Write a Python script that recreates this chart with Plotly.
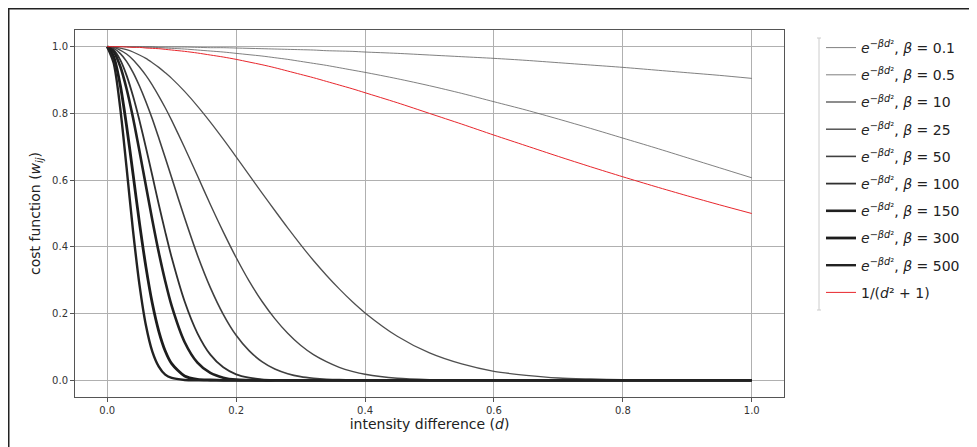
import plotly.graph_objects as go

d = [0, .01, .02, .03, .04, .05, .06, .07, .08, .09, .10,
     .12, .14, .16, .18, .20,
     .22, .24, .26, .28, .30, .32, .34, .36, .38, .40,
     .45, .50, .55, .60, .65, .70, .75, .80, .85, .90, .95, 1.0]

w_b0_1 = [1, 1, 1, 1, 1, 1, 1, 1, .999, .999, .999,
          .999, .998, .997, .997, .996,
          .995, .994, .993, .992, .991, .990, .988, .987, .986, .984,
          .980, .975, .970, .965, .959, .952, .945, .938, .930, .922, .914, .905]
w_b0_5 = [1, 1, 1, 1, .999, .999, .998, .998, .997, .996, .995,
          .993, .990, .987, .984, .980,
          .976, .972, .967, .962, .956, .950, .944, .937, .930, .923,
          .904, .883, .860, .835, .810, .783, .755, .726, .697, .667, .637, .607]
w_b10 = [1, .999, .996, .991, .984, .975, .965, .952, .938, .922, .905,
         .866, .822, .774, .723, .670,
         .616, .562, .509, .457, .407, .359, .315, .274, .236, .202,
         .132, .082, .049, .027, .015, .007, .004, .002, .001, 0, 0, 0]
w_b25 = [1, .998, .990, .978, .961, .939, .914, .885, .852, .817, .779,
         .698, .613, .527, .445, .368,
         .298, .237, .185, .141, .105, .077, .056, .039, .027, .018,
         .006, .002, .001, 0, 0, 0, 0, 0, 0, 0, 0, 0]
w_b50 = [1, .995, .980, .956, .923, .882, .835, .783, .726, .667, .607,
         .487, .375, .278, .198, .135,
         .089, .056, .034, .020, .011, .006, .003, .002, .001, 0,
         0, 0, 0, 0, 0, 0, 0, 0, 0, 0, 0, 0]
w_b100 = [1, .990, .961, .914, .852, .779, .698, .613, .527, .445, .368,
          .237, .141, .077, .039, .018,
          .008, .003, .001, 0, 0, 0, 0, 0, 0, 0,
          0, 0, 0, 0, 0, 0, 0, 0, 0, 0, 0, 0]
w_b150 = [1, .985, .942, .874, .787, .687, .583, .480, .383, .297, .223,
          .115, .053, .022, .008, .002,
          .001, 0, 0, 0, 0, 0, 0, 0, 0, 0,
          0, 0, 0, 0, 0, 0, 0, 0, 0, 0, 0, 0]
w_b300 = [1, .970, .887, .763, .619, .472, .340, .230, .147, .088, .050,
          .013, .003, .001, 0, 0,
          0, 0, 0, 0, 0, 0, 0, 0, 0, 0,
          0, 0, 0, 0, 0, 0, 0, 0, 0, 0, 0, 0]
w_b500 = [1, .951, .819, .638, .449, .287, .165, .086, .041, .017, .007,
          .001, 0, 0, 0, 0,
          0, 0, 0, 0, 0, 0, 0, 0, 0, 0,
          0, 0, 0, 0, 0, 0, 0, 0, 0, 0, 0, 0]
w_inv = [1, 1, 1, .999, .998, .998, .996, .995, .994, .992, .990,
         .986, .981, .975, .969, .962,
         .954, .946, .937, .927, .917, .907, .896, .885, .874, .862,
         .832, .800, .768, .735, .703, .671, .640, .610, .581, .553, .526, .500]

betas = ["0.1", "0.5", "10", "25", "50", "100", "150", "300", "500"]
series = [w_b0_1, w_b0_5, w_b10, w_b25, w_b50, w_b100, w_b150, w_b300, w_b500]
widths = [0.8, 0.8, 1.3, 1.4, 1.6, 1.8, 2.6, 2.8, 2.4]
colors = ["#606060", "#606060", "#505050", "#484848", "#404040", "#303030", "#202020", "#1c1c1c", "#222222"]

x_ticks = [0.0, 0.2, 0.4, 0.6, 0.8, 1.0]
y_ticks = [0.0, 0.2, 0.4, 0.6, 0.8, 1.0]

fig = go.Figure()
for i, (b, ys) in enumerate(zip(betas, series)):
    fig.add_trace(go.Scatter(
        x=d, y=ys, mode="lines",
        line=dict(color=colors[i], width=widths[i], shape="spline", smoothing=0.8),
        name="<i>e</i><sup>−<i>βd</i>²</sup>, <i>β</i> = " + b,
        legendgroup="g%d" % i,
    ))
fig.add_trace(go.Scatter(
    x=d, y=w_inv, mode="lines",
    line=dict(color="#e8262c", width=1, shape="spline", smoothing=0.8),
    name="1/(<i>d</i>² + 1)", legendgroup="g9",
))

O = 8  # page body offset
L, T = 67, 22
W, H = 969, 439
pw, ph = 709, 367
R = W - L - pw
B = H - T - ph

def px(xs):
    return (xs - O - L) / pw

def py(ys):
    return 1 - (ys - O - T) / ph

axis_common = dict(
    showgrid=True, gridcolor="#b0b0b0", gridwidth=0.8,
    showline=True, linecolor="#555555", linewidth=1, mirror=True,
    ticks="outside", ticklen=4, tickcolor="#555555", tickwidth=1,
    tickfont=dict(family="DejaVu Sans", size=10, color="#333333"),
    zeroline=False,
)

fig.update_layout(
    width=W, height=H,
    margin=dict(l=L, r=R, t=T, b=B, pad=0),
    paper_bgcolor="white", plot_bgcolor="white",
    font=dict(family="DejaVu Sans", color="#222222"),
    xaxis=dict(range=[-0.05, 1.05], tickvals=x_ticks, ticktext=["%.1f" % v for v in x_ticks],
               title=dict(text="intensity difference (<i>d</i>)", font=dict(size=14, color="#222222"), standoff=1),
               **axis_common),
    yaxis=dict(range=[-0.05, 1.05], tickvals=y_ticks, ticktext=["%.1f" % v for v in y_ticks],
               title=dict(text="cost function (<i>w<sub>ij</sub></i>)", font=dict(size=14, color="#222222"), standoff=8),
               **axis_common),
    legend=dict(x=px(821), y=py(32), xanchor="left", yanchor="top",
                font=dict(family="DejaVu Sans", size=14, color="#222222"),
                tracegroupgap=6, bgcolor="rgba(0,0,0,0)", itemwidth=30),
    shapes=[
        dict(type="line", xref="paper", yref="paper", x0=px(8), x1=px(980), y0=py(8.75), y1=py(8.75),
             line=dict(color="#222222", width=1.5)),
        dict(type="line", xref="paper", yref="paper", x0=px(8.75), x1=px(8.75), y0=py(8), y1=py(450),
             line=dict(color="#222222", width=1.5)),
        dict(type="line", xref="paper", yref="paper", x0=px(819), x1=px(819), y0=py(38), y1=py(310),
             line=dict(color="#cccccc", width=1)),
        dict(type="line", xref="paper", yref="paper", x0=px(817), x1=px(821), y0=py(38), y1=py(38),
             line=dict(color="#cccccc", width=1)),
        dict(type="line", xref="paper", yref="paper", x0=px(817), x1=px(821), y0=py(310), y1=py(310),
             line=dict(color="#cccccc", width=1)),
    ],
)

fig.write_html("out.html")
